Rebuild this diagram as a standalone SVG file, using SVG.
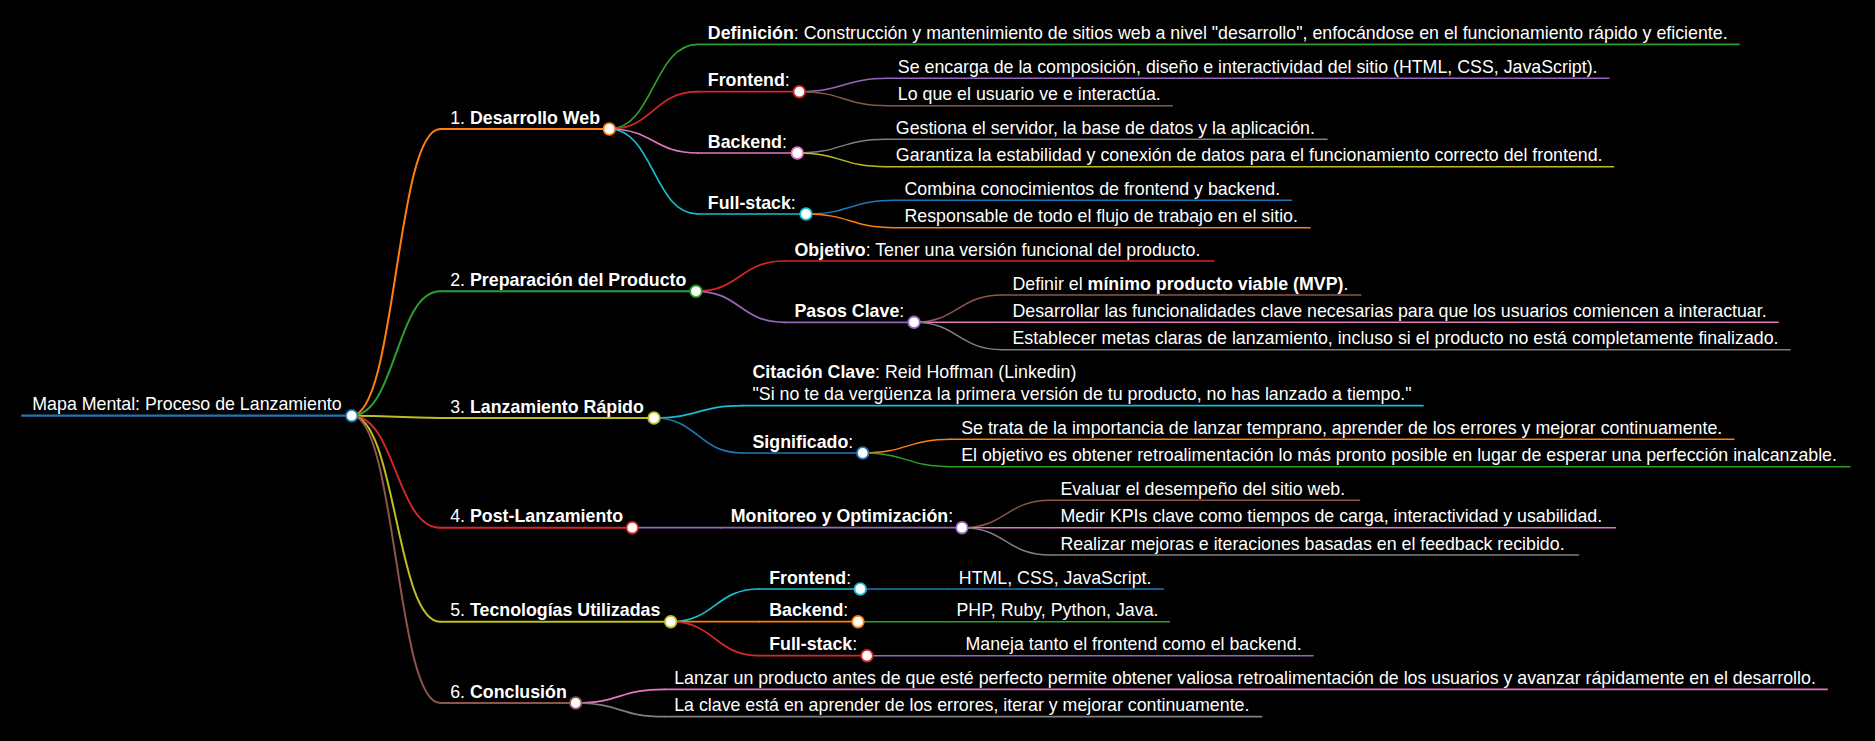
<svg xmlns="http://www.w3.org/2000/svg" width="1875" height="741" viewBox="0 0 1875 741">
<style>
text{font-family:"Liberation Sans",Arial,sans-serif;font-size:17.8px;fill:#ffffff}
.b{font-weight:bold}
.ln,.lk{fill:none;stroke-linecap:round}
.d0{stroke-width:2.2}.d1{stroke-width:2}.d2{stroke-width:1.7}.d3{stroke-width:1.5}
.c{fill:#ffffff;stroke-width:1.8}
.blue{stroke:#1f77b4}.orange{stroke:#ff7f0e}.green{stroke:#2ca02c}.red{stroke:#d62728}.purple{stroke:#9467bd}.brown{stroke:#8c564b}.pink{stroke:#e377c2}.gray{stroke:#7f7f7f}.olive{stroke:#bcbd22}.cyan{stroke:#17becf}
</style>
<rect x="0" y="0" width="1875" height="741" fill="#000000"/>
<g id="connectors">
<path class="lk d1 orange" d="M351.7,415.7 C396,415.7 396,129 440.2,129"/>
<path class="lk d1 green" d="M351.7,415.7 C396,415.7 396,291.3 440.2,291.3"/>
<path class="lk d1 olive" d="M351.7,415.7 C396,415.7 396,418 440.2,418"/>
<path class="lk d1 red" d="M351.7,415.7 C396,415.7 396,527.7 440.2,527.7"/>
<path class="lk d1 olive" d="M351.7,415.7 C396,415.7 396,621.7 440.2,621.7"/>
<path class="lk d1 brown" d="M351.7,415.7 C396,415.7 396,703 440.2,703"/>
<path class="lk d2 green" d="M609.3,129 C653.5,129 653.5,44.3 697.8,44.3"/>
<path class="lk d2 red" d="M609.3,129 C653.5,129 653.5,91.7 697.8,91.7"/>
<path class="lk d2 pink" d="M609.3,129 C653.5,129 653.5,153 697.8,153"/>
<path class="lk d2 cyan" d="M609.3,129 C653.5,129 653.5,214 697.8,214"/>
<path class="lk d3 purple" d="M799.3,91.7 C843.5,91.7 843.5,78.3 887.8,78.3"/>
<path class="lk d3 brown" d="M799.3,91.7 C843.5,91.7 843.5,105.7 887.8,105.7"/>
<path class="lk d3 gray" d="M797.3,153 C841.5,153 841.5,139.3 885.8,139.3"/>
<path class="lk d3 olive" d="M797.3,153 C841.5,153 841.5,166.7 885.8,166.7"/>
<path class="lk d3 blue" d="M806,214 C850,214 850,200.3 894.5,200.3"/>
<path class="lk d3 orange" d="M806,214 C850,214 850,227.7 894.5,227.7"/>
<path class="lk d2 red" d="M696,291.3 C740,291.3 740,261 784.5,261"/>
<path class="lk d2 purple" d="M696,291.3 C740,291.3 740,322.3 784.5,322.3"/>
<path class="lk d3 brown" d="M914,322.3 C958,322.3 958,294.9 1002.5,294.9"/>
<path class="lk d3 pink" d="M914,322.3 C958,322.3 958,322.3 1002.5,322.3"/>
<path class="lk d3 gray" d="M914,322.3 C958,322.3 958,349.7 1002.5,349.7"/>
<path class="lk d2 cyan" d="M654,418 C698,418 698,405.7 742.5,405.7"/>
<path class="lk d2 blue" d="M654,418 C698,418 698,453 742.5,453"/>
<path class="lk d3 orange" d="M862.7,453 C907,453 907,439.3 951.2,439.3"/>
<path class="lk d3 green" d="M862.7,453 C907,453 907,466.7 951.2,466.7"/>
<path class="lk d2 purple" d="M632.3,527.7 C676.5,527.7 676.5,527.7 720.8,527.7"/>
<path class="lk d3 brown" d="M962,527.7 C1006,527.7 1006,500.3 1050.5,500.3"/>
<path class="lk d3 pink" d="M962,527.7 C1006,527.7 1006,527.7 1050.5,527.7"/>
<path class="lk d3 gray" d="M962,527.7 C1006,527.7 1006,555.1 1050.5,555.1"/>
<path class="lk d2 cyan" d="M670.7,621.7 C715,621.7 715,589 759.2,589"/>
<path class="lk d2 orange" d="M670.7,621.7 C715,621.7 715,621.7 759.2,621.7"/>
<path class="lk d2 red" d="M670.7,621.7 C715,621.7 715,655.7 759.2,655.7"/>
<path class="lk d3 blue" d="M860.3,589 C904.5,589 904.5,589 948.8,589"/>
<path class="lk d3 green" d="M858,621.7 C902,621.7 902,621.7 946.5,621.7"/>
<path class="lk d3 purple" d="M867,655.7 C911,655.7 911,655.7 955.5,655.7"/>
<path class="lk d2 pink" d="M575.7,703 C620,703 620,689.3 664.2,689.3"/>
<path class="lk d2 gray" d="M575.7,703 C620,703 620,716.7 664.2,716.7"/>
</g>
<g id="root">
<line class="ln d0 blue" x1="22" y1="415.7" x2="351.7" y2="415.7"/>
<text x="32.3" y="410.2">Mapa Mental: Proceso de Lanzamiento</text>
<circle class="c blue" cx="351.7" cy="415.7" r="5.8"/>
</g>
<g id="n1">
<line class="ln d1 orange" x1="440.2" y1="129" x2="609.3" y2="129"/>
<text x="450.2" y="123.7">1. <tspan class="b">Desarrollo Web</tspan></text>
<circle class="c orange" cx="609.3" cy="129" r="5.8"/>
</g>
<g id="n1-def">
<line class="ln d2 green" x1="697.8" y1="44.3" x2="1739" y2="44.3"/>
<text x="707.8" y="39"><tspan class="b">Definición</tspan>: Construcción y mantenimiento de sitios web a nivel "desarrollo", enfocándose en el funcionamiento rápido y eficiente.</text>
</g>
<g id="n1-front">
<line class="ln d2 red" x1="697.8" y1="91.7" x2="799.3" y2="91.7"/>
<text x="707.8" y="86.4"><tspan class="b">Frontend</tspan>:</text>
<circle class="c red" cx="799.3" cy="91.7" r="5.8"/>
</g>
<g id="n1-front-1">
<line class="ln d3 purple" x1="887.8" y1="78.3" x2="1609" y2="78.3"/>
<text x="897.8" y="73">Se encarga de la composición, diseño e interactividad del sitio (HTML, CSS, JavaScript).</text>
</g>
<g id="n1-front-2">
<line class="ln d3 brown" x1="887.8" y1="105.7" x2="1172.3" y2="105.7"/>
<text x="897.8" y="100.4">Lo que el usuario ve e interactúa.</text>
</g>
<g id="n1-back">
<line class="ln d2 pink" x1="697.8" y1="153" x2="797.3" y2="153"/>
<text x="707.8" y="147.7"><tspan class="b">Backend</tspan>:</text>
<circle class="c pink" cx="797.3" cy="153" r="5.8"/>
</g>
<g id="n1-back-1">
<line class="ln d3 gray" x1="885.8" y1="139.3" x2="1327" y2="139.3"/>
<text x="895.8" y="134">Gestiona el servidor, la base de datos y la aplicación.</text>
</g>
<g id="n1-back-2">
<line class="ln d3 olive" x1="885.8" y1="166.7" x2="1613.5" y2="166.7"/>
<text x="895.8" y="161.4">Garantiza la estabilidad y conexión de datos para el funcionamiento correcto del frontend.</text>
</g>
<g id="n1-full">
<line class="ln d2 cyan" x1="697.8" y1="214" x2="806" y2="214"/>
<text x="707.8" y="208.7"><tspan class="b">Full-stack</tspan>:</text>
<circle class="c cyan" cx="806" cy="214" r="5.8"/>
</g>
<g id="n1-full-1">
<line class="ln d3 blue" x1="894.5" y1="200.3" x2="1291.5" y2="200.3"/>
<text x="904.5" y="195">Combina conocimientos de frontend y backend.</text>
</g>
<g id="n1-full-2">
<line class="ln d3 orange" x1="894.5" y1="227.7" x2="1310" y2="227.7"/>
<text x="904.5" y="222.4">Responsable de todo el flujo de trabajo en el sitio.</text>
</g>
<g id="n2">
<line class="ln d1 green" x1="440.2" y1="291.3" x2="696" y2="291.3"/>
<text x="450.2" y="286">2. <tspan class="b">Preparación del Producto</tspan></text>
<circle class="c green" cx="696" cy="291.3" r="5.8"/>
</g>
<g id="n2-obj">
<line class="ln d2 red" x1="784.5" y1="261" x2="1213.7" y2="261"/>
<text x="794.5" y="255.7"><tspan class="b">Objetivo</tspan>: Tener una versión funcional del producto.</text>
</g>
<g id="n2-pasos">
<line class="ln d2 purple" x1="784.5" y1="322.3" x2="914" y2="322.3"/>
<text x="794.5" y="317"><tspan class="b">Pasos Clave</tspan>:</text>
<circle class="c purple" cx="914" cy="322.3" r="5.8"/>
</g>
<g id="n2-pasos-1">
<line class="ln d3 brown" x1="1002.5" y1="294.9" x2="1360.8" y2="294.9"/>
<text x="1012.5" y="289.6">Definir el <tspan class="b">mínimo producto viable (MVP)</tspan>.</text>
</g>
<g id="n2-pasos-2">
<line class="ln d3 pink" x1="1002.5" y1="322.3" x2="1778.2" y2="322.3"/>
<text x="1012.5" y="317">Desarrollar las funcionalidades clave necesarias para que los usuarios comiencen a interactuar.</text>
</g>
<g id="n2-pasos-3">
<line class="ln d3 gray" x1="1002.5" y1="349.7" x2="1790.1" y2="349.7"/>
<text x="1012.5" y="344.4">Establecer metas claras de lanzamiento, incluso si el producto no está completamente finalizado.</text>
</g>
<g id="n3">
<line class="ln d1 olive" x1="440.2" y1="418" x2="654" y2="418"/>
<text x="450.2" y="412.7">3. <tspan class="b">Lanzamiento Rápido</tspan></text>
<circle class="c olive" cx="654" cy="418" r="5.8"/>
</g>
<g id="n3-cita">
<line class="ln d2 cyan" x1="742.5" y1="405.7" x2="1423" y2="405.7"/>
<text x="752.5" y="377.7"><tspan class="b">Citación Clave</tspan>: Reid Hoffman (Linkedin)</text>
<text x="752.5" y="399.9">"Si no te da vergüenza la primera versión de tu producto, no has lanzado a tiempo."</text>
</g>
<g id="n3-sig">
<line class="ln d2 blue" x1="742.5" y1="453" x2="862.7" y2="453"/>
<text x="752.5" y="447.7"><tspan class="b">Significado</tspan>:</text>
<circle class="c blue" cx="862.7" cy="453" r="5.8"/>
</g>
<g id="n3-sig-1">
<line class="ln d3 orange" x1="951.2" y1="439.3" x2="1733.9" y2="439.3"/>
<text x="961.2" y="434">Se trata de la importancia de lanzar temprano, aprender de los errores y mejorar continuamente.</text>
</g>
<g id="n3-sig-2">
<line class="ln d3 green" x1="951.2" y1="466.7" x2="1849.9" y2="466.7"/>
<text x="961.2" y="461.4">El objetivo es obtener retroalimentación lo más pronto posible en lugar de esperar una perfección inalcanzable.</text>
</g>
<g id="n4">
<line class="ln d1 red" x1="440.2" y1="527.7" x2="632.3" y2="527.7"/>
<text x="450.2" y="522.4">4. <tspan class="b">Post-Lanzamiento</tspan></text>
<circle class="c red" cx="632.3" cy="527.7" r="5.8"/>
</g>
<g id="n4-mon">
<line class="ln d2 purple" x1="720.8" y1="527.7" x2="962" y2="527.7"/>
<text x="730.8" y="522.4"><tspan class="b">Monitoreo y Optimización</tspan>:</text>
<circle class="c purple" cx="962" cy="527.7" r="5.8"/>
</g>
<g id="n4-mon-1">
<line class="ln d3 brown" x1="1050.5" y1="500.3" x2="1359.6" y2="500.3"/>
<text x="1060.5" y="495">Evaluar el desempeño del sitio web.</text>
</g>
<g id="n4-mon-2">
<line class="ln d3 pink" x1="1050.5" y1="527.7" x2="1615.5" y2="527.7"/>
<text x="1060.5" y="522.4">Medir KPIs clave como tiempos de carga, interactividad y usabilidad.</text>
</g>
<g id="n4-mon-3">
<line class="ln d3 gray" x1="1050.5" y1="555.1" x2="1578.5" y2="555.1"/>
<text x="1060.5" y="549.8">Realizar mejoras e iteraciones basadas en el feedback recibido.</text>
</g>
<g id="n5">
<line class="ln d1 olive" x1="440.2" y1="621.7" x2="670.7" y2="621.7"/>
<text x="450.2" y="616.4">5. <tspan class="b">Tecnologías Utilizadas</tspan></text>
<circle class="c olive" cx="670.7" cy="621.7" r="5.8"/>
</g>
<g id="n5-front">
<line class="ln d2 cyan" x1="759.2" y1="589" x2="860.3" y2="589"/>
<text x="769.2" y="583.7"><tspan class="b">Frontend</tspan>:</text>
<circle class="c cyan" cx="860.3" cy="589" r="5.8"/>
</g>
<g id="n5-front-1">
<line class="ln d3 blue" x1="948.8" y1="589" x2="1163.5" y2="589"/>
<text x="958.8" y="583.7">HTML, CSS, JavaScript.</text>
</g>
<g id="n5-back">
<line class="ln d2 orange" x1="759.2" y1="621.7" x2="858" y2="621.7"/>
<text x="769.2" y="616.4"><tspan class="b">Backend</tspan>:</text>
<circle class="c orange" cx="858" cy="621.7" r="5.8"/>
</g>
<g id="n5-back-1">
<line class="ln d3 green" x1="946.5" y1="621.7" x2="1169.5" y2="621.7"/>
<text x="956.5" y="616.4">PHP, Ruby, Python, Java.</text>
</g>
<g id="n5-full">
<line class="ln d2 red" x1="759.2" y1="655.7" x2="867" y2="655.7"/>
<text x="769.2" y="650.4"><tspan class="b">Full-stack</tspan>:</text>
<circle class="c red" cx="867" cy="655.7" r="5.8"/>
</g>
<g id="n5-full-1">
<line class="ln d3 purple" x1="955.5" y1="655.7" x2="1313" y2="655.7"/>
<text x="965.5" y="650.4">Maneja tanto el frontend como el backend.</text>
</g>
<g id="n6">
<line class="ln d1 brown" x1="440.2" y1="703" x2="575.7" y2="703"/>
<text x="450.2" y="697.7">6. <tspan class="b">Conclusión</tspan></text>
<circle class="c brown" cx="575.7" cy="703" r="5.8"/>
</g>
<g id="n6-1">
<line class="ln d2 pink" x1="664.2" y1="689.3" x2="1827.2" y2="689.3"/>
<text x="674.2" y="684">Lanzar un producto antes de que esté perfecto permite obtener valiosa retroalimentación de los usuarios y avanzar rápidamente en el desarrollo.</text>
</g>
<g id="n6-2">
<line class="ln d2 gray" x1="664.2" y1="716.7" x2="1261.6" y2="716.7"/>
<text x="674.2" y="711.4">La clave está en aprender de los errores, iterar y mejorar continuamente.</text>
</g>
</svg>
